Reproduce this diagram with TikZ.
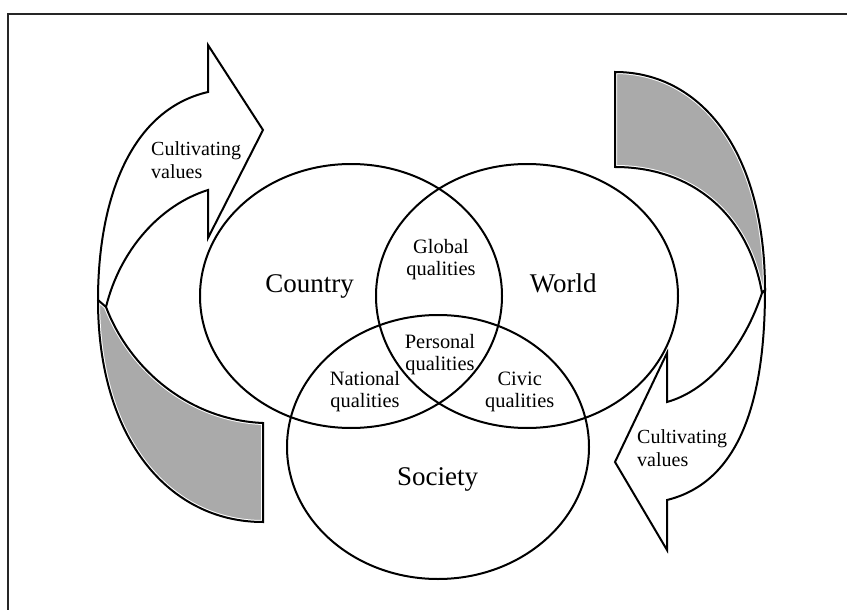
\documentclass[tikz,border=0pt]{standalone}
\usepackage{fontspec}
\setmainfont{Liberation Serif}
\usepackage{xcolor}
\usepackage{tikz}
\usetikzlibrary{shapes.geometric}
\definecolor{backface}{RGB}{170,170,170}
\tikzset{
  vennset/.style={ellipse, draw=black, line width=2pt, minimum width=302pt, minimum height=264pt, inner sep=0pt},
  ribbon/.style={draw=black, line width=2pt, fill=white, line join=miter},
  backside/.style={fill=backface, draw=white, line width=4pt},
  edge/.style={draw=black, line width=2pt},
  biglabel/.style={font=\fontsize{27}{32}\selectfont, inner sep=0pt, anchor=base},
  smalllabel/.style={font=\fontsize{20.4}{22.5}\selectfont, align=center, inner sep=0pt},
  arrowlabel/.style={font=\fontsize{20}{22.5}\selectfont, align=left, inner sep=0pt, anchor=west},
  frame/.style={draw=black!85, line width=2pt}
}

\begin{document}
\begin{tikzpicture}[x=1pt, y=-1pt]

\useasboundingbox (0,0) rectangle (847,610);
\draw [frame] (847,14) -- (8,14) -- (8,610);

% Left arrow
\path [backside] (106,307) .. controls (130,370) and (190,420) .. (263,423) -- (263,522)
  .. controls (170,522) and (98,440) .. (98,300) -- cycle;
\draw [ribbon] (208,190) .. controls (160,205) and (120,250) .. (106,307) -- (98,300)
  .. controls (98,200) and (130,110) .. (208,92) -- (208,45) -- (263,130) -- (208,238) -- cycle;
\draw [edge] (106,307) .. controls (130,370) and (190,420) .. (263,423) -- (263,522)
  .. controls (170,522) and (98,440) .. (98,300);
\node (leftvalues) [arrowlabel] at (151,160.4) {Cultivating\\values};

% Right arrow
\path [backside] (615,167) .. controls (690,167) and (748,212) .. (762,293) -- (765,290)
  .. controls (765,150) and (700,72) .. (615,72) -- cycle;
\draw [ribbon] (667,402) .. controls (710,390) and (745,345) .. (762,293) -- (765,290)
  .. controls (765,400) and (740,482) .. (667,500) -- (667,550) -- (615,462) -- (667,353) -- cycle;
\draw [edge] (615,167) .. controls (690,167) and (748,212) .. (762,293) -- (765,290)
  .. controls (765,150) and (700,72) .. (615,72) -- cycle;
\node (rightvalues) [arrowlabel] at (637,448.2) {Cultivating\\values};

% Sets
\node (country) [vennset] at (351,296) {};
\node (world) [vennset] at (527,296) {};
\node (society) [vennset] at (438,447) {};

% Labels
\node (countrylabel) [biglabel] at (309.5,292) {Country};
\node (worldlabel) [biglabel] at (563.3,292) {World};
\node (societylabel) [biglabel] at (437.5,485) {Society};
\node (global) [smalllabel] at (441,259.4) {Global\\qualities};
\node (personal) [smalllabel] at (440,354.7) {Personal\\qualities};
\node (national) [smalllabel] at (365,391.7) {National\\qualities};
\node (civic) [smalllabel] at (519.7,391.7) {Civic\\qualities};

\end{tikzpicture}
\end{document}
